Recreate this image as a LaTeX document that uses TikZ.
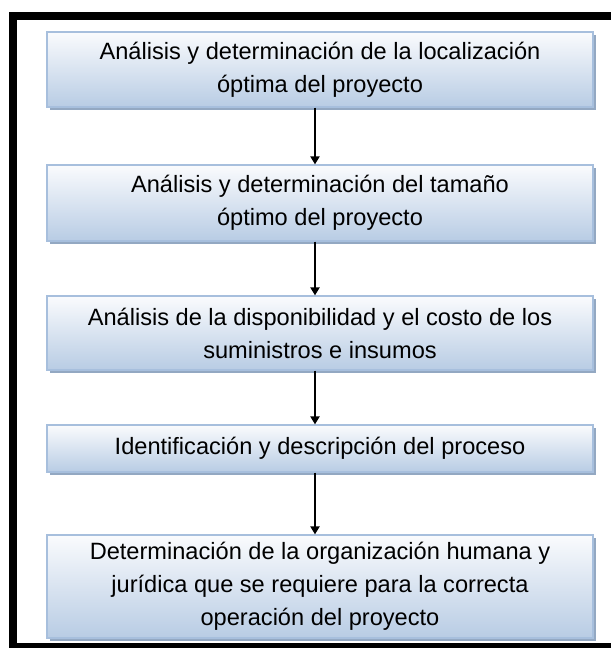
\documentclass[tikz,border=0pt]{standalone}
\usepackage{fontspec}
\setmainfont{Liberation Sans}
\usetikzlibrary{arrows.meta,shadows}
\definecolor{boxtop}{HTML}{FAFBFD}
\definecolor{boxbot}{HTML}{B8CCE4}
\definecolor{boxline}{HTML}{A7BFDD}
\definecolor{boxshadow}{HTML}{93A8C2}
\tikzset{
  stepbox/.style={rectangle, draw=boxline, line width=1.2pt, top color=boxtop, bottom color=boxbot,
    minimum width=546pt, inner sep=0pt, align=center,
    font=\fontsize{23.6}{33}\selectfont,
    drop shadow={shadow xshift=2.5pt, shadow yshift=-2.5pt, fill=boxshadow, opacity=1}},
  flowarrow/.style={line width=2pt, -{Triangle[width=9pt,length=8pt]}},
  framebar/.style={fill=black, draw=none}
}
\begin{document}
\begin{tikzpicture}[x=1pt,y=-1pt]
\useasboundingbox (0,0) rectangle (611,648);
\fill[white] (0,0) rectangle (611,648);
% frame
\fill[framebar] (9,12) rectangle (611,20);
\fill[framebar] (9,12) rectangle (17,648);
\fill[framebar] (9,643) rectangle (611,648);
% boxes
\node[stepbox, minimum height=75pt] (b1) at (320,69.5) {Análisis y determinación de la localización\\óptima del proyecto};
\node[stepbox, minimum height=76pt] (b2) at (320,203) {Análisis y determinación del tamaño\\óptimo del proyecto};
\node[stepbox, minimum height=74pt] (b3) at (320,333) {Análisis de la disponibilidad y el costo de los\\suministros e insumos};
\node[stepbox, minimum height=47pt] (b4) at (320,448.5) {Identificación y descripción del proceso};
\node[stepbox, minimum height=103pt] (b5) at (320,586.5) {Determinación de la organización humana y\\jurídica que se requiere para la correcta\\operación del proyecto};
% arrows
\draw[flowarrow] ([xshift=-5pt]b1.south) -- ([xshift=-5pt]b2.north);
\draw[flowarrow] ([xshift=-5pt]b2.south) -- ([xshift=-5pt]b3.north);
\draw[flowarrow] ([xshift=-5pt]b3.south) -- ([xshift=-5pt]b4.north);
\draw[flowarrow] ([xshift=-5pt]b4.south) -- ([xshift=-5pt]b5.north);
\end{tikzpicture}
\end{document}
